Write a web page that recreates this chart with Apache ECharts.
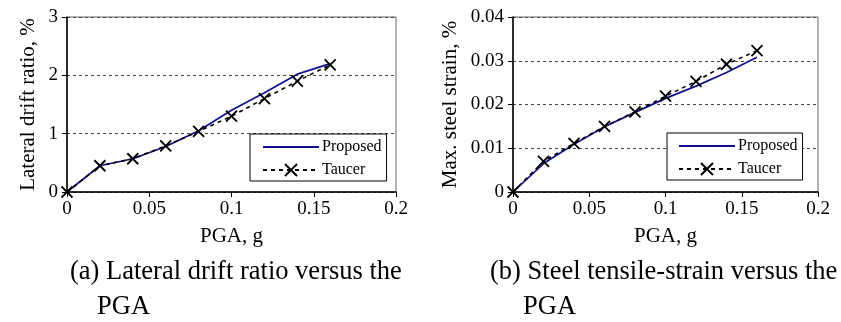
<!DOCTYPE html>
<html>
<head>
<meta charset="utf-8">
<script src="https://cdn.jsdelivr.net/npm/echarts@6/dist/echarts.min.js"></script>
<style>
  html, body { margin: 0; padding: 0; background: #fff; }
  #chart { width: 841px; height: 322px; }
</style>
</head>
<body>
<div id="chart"></div>
<script>
// PGA values (g), shared by both panels
const pga = [0, 0.02, 0.04, 0.06, 0.08, 0.1, 0.12, 0.14, 0.16]

// (a) lateral drift ratio, %
const driftProposed = [0, 0.45, 0.57, 0.78, 1.05, 1.4, 1.7, 2.02, 2.2]
const driftTaucer = [0, 0.45, 0.57, 0.79, 1.04, 1.3, 1.6, 1.9, 2.18]

// (b) max. steel strain
const strainProposed = [0, 0.0065, 0.0109, 0.0149, 0.0182, 0.0214, 0.0242, 0.0273, 0.0308]
const strainTaucer = [0, 0.007, 0.0111, 0.015, 0.0183, 0.0219, 0.0253, 0.0292, 0.0323]

const seriesNames = ['Proposed', 'Taucer']
const captions = [
    ['(a) Lateral drift ratio versus the', 'PGA'],
    ['(b) Steel tensile-strain versus the', 'PGA']
]

const serif = '"Liberation Serif", "Times New Roman", serif'
const pair = (xs, ys) => xs.map((x, i) => [x, ys[i]])
const crossPath = 'path://M0 0L10 10M10 0L0 10'

const chart = echarts.init(document.getElementById('chart'), null, { renderer: 'canvas' })

const xAxisCfg = (gi) => ({
    type: 'value', gridIndex: gi, min: 0, max: 0.2, interval: 0.05,
    name: 'PGA, g', nameLocation: 'middle', nameGap: 34,
    nameTextStyle: { fontFamily: serif, fontSize: 21, color: '#000' },
    axisLine: { lineStyle: { color: '#000', width: 1.5 } },
    axisTick: { show: true, length: 5, lineStyle: { color: '#000' } },
    axisLabel: { fontFamily: serif, fontSize: 19, color: '#000', margin: 8 },
    splitLine: { show: false }
})

const yAxisCfg = (gi, name, max, interval, gap) => ({
    type: 'value', gridIndex: gi, min: 0, max: max, interval: interval,
    name: name, nameLocation: 'middle', nameGap: gap,
    nameTextStyle: { fontFamily: serif, fontSize: 21, color: '#000' },
    axisLine: { show: true, lineStyle: { color: '#000', width: 1.5 } },
    axisTick: { show: true, length: 5, lineStyle: { color: '#000' } },
    axisLabel: { fontFamily: serif, fontSize: 19, color: '#000', margin: 9 },
    splitLine: { show: true, lineStyle: { color: '#444', type: [3, 3], width: 1 } }
})

const proposedSeries = (gi, data) => ({
    name: 'Proposed', type: 'line', xAxisIndex: gi, yAxisIndex: gi,
    data: data, symbol: 'none', clip: false,
    lineStyle: { color: '#10108f', width: 1.7 },
    itemStyle: { color: '#10108f' }
})

const taucerSeries = (gi, data) => ({
    name: 'Taucer', type: 'line', xAxisIndex: gi, yAxisIndex: gi,
    data: data, symbol: crossPath, symbolSize: 11, clip: false,
    lineStyle: { color: '#000', width: 1.6, type: [4, 4] },
    itemStyle: { color: 'rgba(0,0,0,0)', borderColor: '#000', borderWidth: 1.8 }
})

const legendCfg = (left, top, padLeft) => ({
    data: [
        { name: seriesNames[0], itemStyle: { opacity: 0 } },
        { name: seriesNames[1] }
    ],
    orient: 'vertical', left: left, top: top,
    itemWidth: 56, itemHeight: 15, itemGap: 7,
    padding: [5, 5, 3, padLeft],
    backgroundColor: '#fff',
    borderColor: '#000', borderWidth: 1,
    textStyle: { fontFamily: serif, fontSize: 16, color: '#000', padding: [0, 0, 0, -2] }
})

const captionTitle = (text, left, top) => ({
    text: text, left: left, top: top, padding: 0,
    textStyle: { fontFamily: serif, fontSize: 26.5, fontWeight: 'normal', color: '#000' }
})

const option = {
    animation: false,
    title: [
        captionTitle(captions[0][0], 70, 259),
        captionTitle(captions[0][1], 97, 294),
        captionTitle(captions[1][0], 490, 259),
        captionTitle(captions[1][1], 523, 294)
    ],
    legend: [legendCfg(250, 134, 12), legendCfg(667, 133, 11)],
    grid: [
        { left: 67, top: 17, width: 329, height: 175, show: true, borderColor: '#666', borderWidth: 1, backgroundColor: 'transparent' },
        { left: 513, top: 17, width: 305, height: 175, show: true, borderColor: '#666', borderWidth: 1, backgroundColor: 'transparent' }
    ],
    xAxis: [xAxisCfg(0), xAxisCfg(1)],
    yAxis: [
        yAxisCfg(0, 'Lateral drift ratio, %', 3, 1, 28),
        yAxisCfg(1, 'Max. steel strain, %', 0.04, 0.01, 52)
    ],
    series: [
        proposedSeries(0, pair(pga, driftProposed)),
        taucerSeries(0, pair(pga, driftTaucer)),
        proposedSeries(1, pair(pga, strainProposed)),
        taucerSeries(1, pair(pga, strainTaucer))
    ]
}

chart.setOption(option)
</script>
</body>
</html>
